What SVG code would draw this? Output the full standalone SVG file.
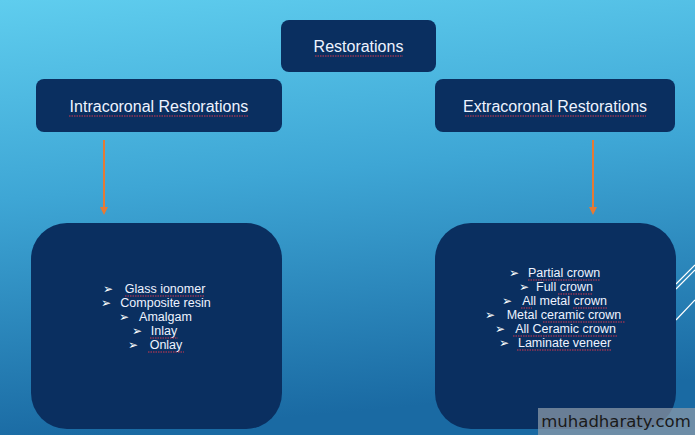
<svg xmlns="http://www.w3.org/2000/svg" width="695" height="435" viewBox="0 0 695 435">
<defs>
<linearGradient id="bg" x1="0" y1="0" x2="0.15" y2="1">
<stop offset="0" stop-color="#5fcdee"/>
<stop offset="0.45" stop-color="#3ea6d5"/>
<stop offset="1" stop-color="#1a6aa3"/>
</linearGradient>
<marker id="ah" viewBox="0 0 10 10" refX="5" refY="5" markerWidth="4" markerHeight="4" orient="auto">
<path d="M0,0 L10,5 L0,10 z" fill="#e57a35"/>
</marker>
<style>
.node{fill:#0a2f60;}
.hd{font-family:"Liberation Sans",Arial,sans-serif;font-size:16px;fill:#eef3ff;text-anchor:middle;}
.li{font-family:"Liberation Sans",Arial,sans-serif;font-size:12.5px;fill:#eef3ff;text-anchor:middle;}
.bl{font-family:"DejaVu Sans",sans-serif;font-size:12px;fill:#ffffff;}
.sp{stroke:#d2384f;stroke-width:1;stroke-dasharray:1.5 1;fill:none;}
.conn{stroke:#e57a35;stroke-width:2;fill:none;}
.deco{stroke:#ffffff;stroke-width:1.2;fill:none;}
</style>
</defs>
<rect x="0" y="0" width="695" height="435" fill="url(#bg)"/>
<g id="decor">
<path class="deco" d="M676,284 L695,265 M676,289 L695,270 M676,320 L695,300"/>
</g>
<g id="connectors">
<line class="conn" x1="104" y1="140" x2="104" y2="211" marker-end="url(#ah)"/>
<line class="conn" x1="593" y1="140" x2="593" y2="211" marker-end="url(#ah)"/>
</g>
<g id="n-restorations">
<rect class="node" x="281" y="20" width="155" height="52" rx="8"/>
<text class="hd" x="358.5" y="52">Restorations</text>
<path class="sp" d="M315,56 L403,56"/>
</g>
<g id="n-intracoronal">
<rect class="node" x="36" y="79" width="246" height="53" rx="8"/>
<text class="hd" x="159" y="112">Intracoronal Restorations</text>
<path class="sp" d="M69,116 L249,116"/>
</g>
<g id="n-extracoronal">
<rect class="node" x="435" y="79" width="240" height="53" rx="8"/>
<text class="hd" x="555" y="112">Extracoronal Restorations</text>
<path class="sp" d="M465,116 L646,116"/>
</g>
<g id="n-intra-list">
<rect class="node" x="31" y="223" width="251" height="206" rx="36"/>
<text class="bl" x="103" y="293">➢</text>
<text class="li" x="165" y="293">Glass ionomer</text>
<path class="sp" d="M125,296 L205,296"/>
<text class="bl" x="101" y="307">➢</text>
<text class="li" x="165.5" y="307">Composite resin</text>
<text class="bl" x="119" y="321">➢</text>
<text class="li" x="165.5" y="321">Amalgam</text>
<text class="bl" x="132" y="335">➢</text>
<text class="li" x="164" y="335">Inlay</text>
<path class="sp" d="M150,338 L178,338"/>
<text class="bl" x="128" y="349">➢</text>
<text class="li" x="166" y="349">Onlay</text>
<path class="sp" d="M148,352 L184,352"/>
</g>
<g id="n-extra-list">
<rect class="node" x="435" y="223" width="241" height="206" rx="36"/>
<text class="bl" x="509" y="277">➢</text>
<text class="li" x="564" y="277">Partial crown</text>
<path class="sp" d="M528,280 L600,280"/>
<text class="bl" x="519" y="291">➢</text>
<text class="li" x="564.5" y="291">Full crown</text>
<path class="sp" d="M558,294 L592,294"/>
<text class="bl" x="502" y="305">➢</text>
<text class="li" x="564.5" y="305">All metal crown</text>
<path class="sp" d="M521,308 L532,308 M573,308 L608,308"/>
<text class="bl" x="485" y="319">➢</text>
<text class="li" x="564" y="319">Metal ceramic crown</text>
<path class="sp" d="M543,322 L625,322"/>
<text class="bl" x="495" y="333">➢</text>
<text class="li" x="565.5" y="333">All Ceramic crown</text>
<path class="sp" d="M513,336 L618,336"/>
<text class="bl" x="499" y="347">➢</text>
<text class="li" x="564.5" y="347">Laminate veneer</text>
<path class="sp" d="M517,350 L612,350"/>
</g>
<g id="watermark">
<rect x="538" y="408" width="157" height="27" fill="#8a9aa8" fill-opacity="0.75"/>
<text x="616" y="427" font-family="'DejaVu Sans',sans-serif" font-size="16.5" fill="#1a1a1a" text-anchor="middle">muhadharaty.com</text>
</g>
</svg>
